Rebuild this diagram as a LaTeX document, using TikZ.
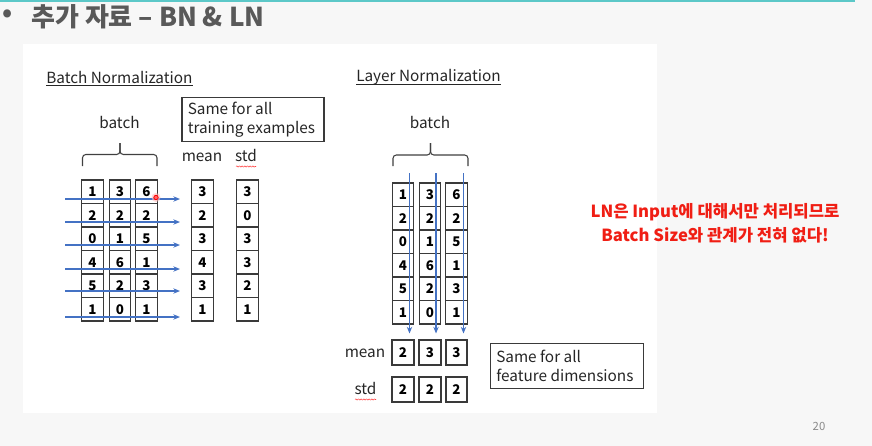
\documentclass[tikz,border=0pt]{standalone}
\usepackage{fontspec}
\setmainfont{Noto Sans CJK KR}
\usetikzlibrary{arrows.meta,decorations.pathmorphing}
\definecolor{bg}{HTML}{F7F7F7}
\definecolor{tealline}{HTML}{5CC8C8}
\definecolor{arrowblue}{HTML}{4472C4}
\definecolor{redtxt}{HTML}{F01E14}
\definecolor{titlegray}{HTML}{595959}
\definecolor{boxline}{HTML}{3A3A3A}
\definecolor{pagegray}{HTML}{8A8A8A}
\tikzset{
  cell/.style={draw=boxline, line width=0.9pt, minimum width=16pt, minimum height=17.6pt,
    inner sep=0pt, outer sep=0pt, font=\fontsize{10}{11}\selectfont\bfseries},
  statcell/.style={cell, line width=1.3pt, minimum height=18.5pt},
  lbl/.style={inner sep=0pt, font=\fontsize{11.5}{14.5}\selectfont, text=black!85},
  note/.style={draw=boxline, line width=0.8pt, minimum width=106.5pt, minimum height=33.5pt, inner sep=0pt},
  flow/.style={draw=arrowblue, line width=1pt, -{Stealth[length=5pt,width=4pt]}},
  bracepath/.style={draw=black!75, line width=0.8pt, rounded corners=2.5pt},
  squiggle/.style={draw=red!75, line width=0.4pt, decorate, decoration={snake, amplitude=0.45pt, segment length=2pt}},
}
\begin{document}
\begin{tikzpicture}[x=0.75pt,y=-0.75pt]
\useasboundingbox (0,0) rectangle (872,446);
\fill[bg] (0,0) rectangle (872,446);
\fill[tealline] (0,0) rectangle (855,2);
\fill[white] (22.5,43.5) rectangle (656.5,412.5);

% title
\node[inner sep=0pt, text=titlegray, font=\fontsize{19}{22}\selectfont\bfseries] (bullet) at (8,16) {•};
\node[anchor=west, inner sep=0pt, text=titlegray, font=\fontsize{19.5}{22}\selectfont\bfseries] (title) at (31,16.5) {추가 자료 – BN \& LN};

% ---------- Batch Normalization ----------
\node[lbl, anchor=west] (bntitle) at (46,77) {Batch Normalization};
\draw[black!85, line width=0.6pt] ([yshift=-2pt]bntitle.base west) -- ([yshift=-2pt]bntitle.base east);

\node[note] (bnnote) at (253,119.5) {};
\node[lbl, anchor=west, align=left] (bnnotetext) at (187.5,119.5) {Same for all\\training examples};

\node[lbl] (bnbatch) at (119.5,122) {batch};
\draw[bracepath] (82.5,166) -- (82.5,154.5) -- (120,154.5) -- (120,143);
\draw[bracepath] (157,166) -- (157,154.5) -- (120,154.5) -- (120,143);

\node[lbl, anchor=base] (bnmean) at (202,161) {mean};
\node[lbl, anchor=base] (bnstd) at (246,161) {std};
\path[squiggle] (236,166.5) -- (256,166.5);

\foreach \r/\a/\b/\c/\m/\s in {1/1/3/6/3/3, 2/2/2/2/2/0, 3/0/1/5/3/3, 4/4/6/1/4/3, 5/5/2/3/3/2, 6/1/0/1/1/1}{
  \pgfmathsetmacro{\yy}{180+23.5*(\r-0.5)}
  \node[cell] (bn-\r-1) at (92.5,\yy) {\a};
  \node[cell] (bn-\r-2) at (120,\yy) {\b};
  \node[cell] (bn-\r-3) at (146.5,\yy) {\c};
  \node[cell] (bnm-\r) at (202.5,\yy) {\m};
  \node[cell] (bns-\r) at (247.5,\yy) {\s};
}

\foreach \i/\y in {1/199, 2/222, 3/245, 4/269, 5/291, 6/317}{
  \coordinate (bnin-\i) at (65,\y);
  \coordinate (bnout-\i) at (180,\y);
  \draw[flow] (bnin-\i) -- (bnout-\i);
}
% pointer dot
\fill[red!25, opacity=0.6] (156,197.5) circle (4.5);
\draw[red, fill=red!60, line width=0.6pt] (156,197.5) circle (2.2);

% ---------- Layer Normalization ----------
\node[lbl, anchor=west] (lntitle) at (356,77) {Layer Normalization};
\draw[black!85, line width=0.6pt] ([yshift=-2pt]lntitle.base west) -- ([yshift=-2pt]lntitle.base east);

\node[lbl] (lnbatch) at (430,122.5) {batch};
\draw[bracepath] (393,166) -- (393,155) -- (430.5,155) -- (430.5,143);
\draw[bracepath] (468,166) -- (468,155) -- (430.5,155) -- (430.5,143);

\foreach \r/\a/\b/\c in {1/1/3/6, 2/2/2/2, 3/0/1/5, 4/4/6/1, 5/5/2/3, 6/1/0/1}{
  \pgfmathsetmacro{\yy}{183+23.5*(\r-0.5)}
  \node[cell] (ln-\r-1) at (403,\yy) {\a};
  \node[cell] (ln-\r-2) at (430,\yy) {\b};
  \node[cell] (ln-\r-3) at (456.5,\yy) {\c};
}
\foreach \i/\x in {1/409.5, 2/436, 3/463.5}{
  \coordinate (lnin-\i) at (\x,173);
  \coordinate (lnout-\i) at (\x,333.5);
  \draw[flow] (lnin-\i) -- (lnout-\i);
}

\node[lbl, anchor=base] (lnmean) at (365,357.5) {mean};
\node[lbl, anchor=base] (lnstd) at (365.5,394) {std};
\path[squiggle] (355,399.5) -- (376,399.5);

\foreach \i/\x/\m/\s in {1/403/2/2, 2/430/3/2, 3/456.5/3/2}{
  \node[statcell] (lnm-\i) at (\x,352.5) {\m};
  \node[statcell] (lns-\i) at (\x,389.5) {\s};
}

\node[note, minimum width=114.5pt] (lnnote) at (567,366) {};
\node[lbl, anchor=west, align=left] (lnnotetext) at (496,366) {Same for all\\feature dimensions};

% ---------- red remark ----------
\node[inner sep=0pt, text=redtxt, align=center, font=\fontsize{12.5}{18}\selectfont\bfseries] (remark) at (715,223)
  {LN은 Input에 대해서만 처리되므로\\Batch Size와 관계가 전혀 없다!};

% page number
\node[inner sep=0pt, text=pagegray, font=\fontsize{8.5}{10}\selectfont] (pagenum) at (819,426) {20};
\end{tikzpicture}
\end{document}
